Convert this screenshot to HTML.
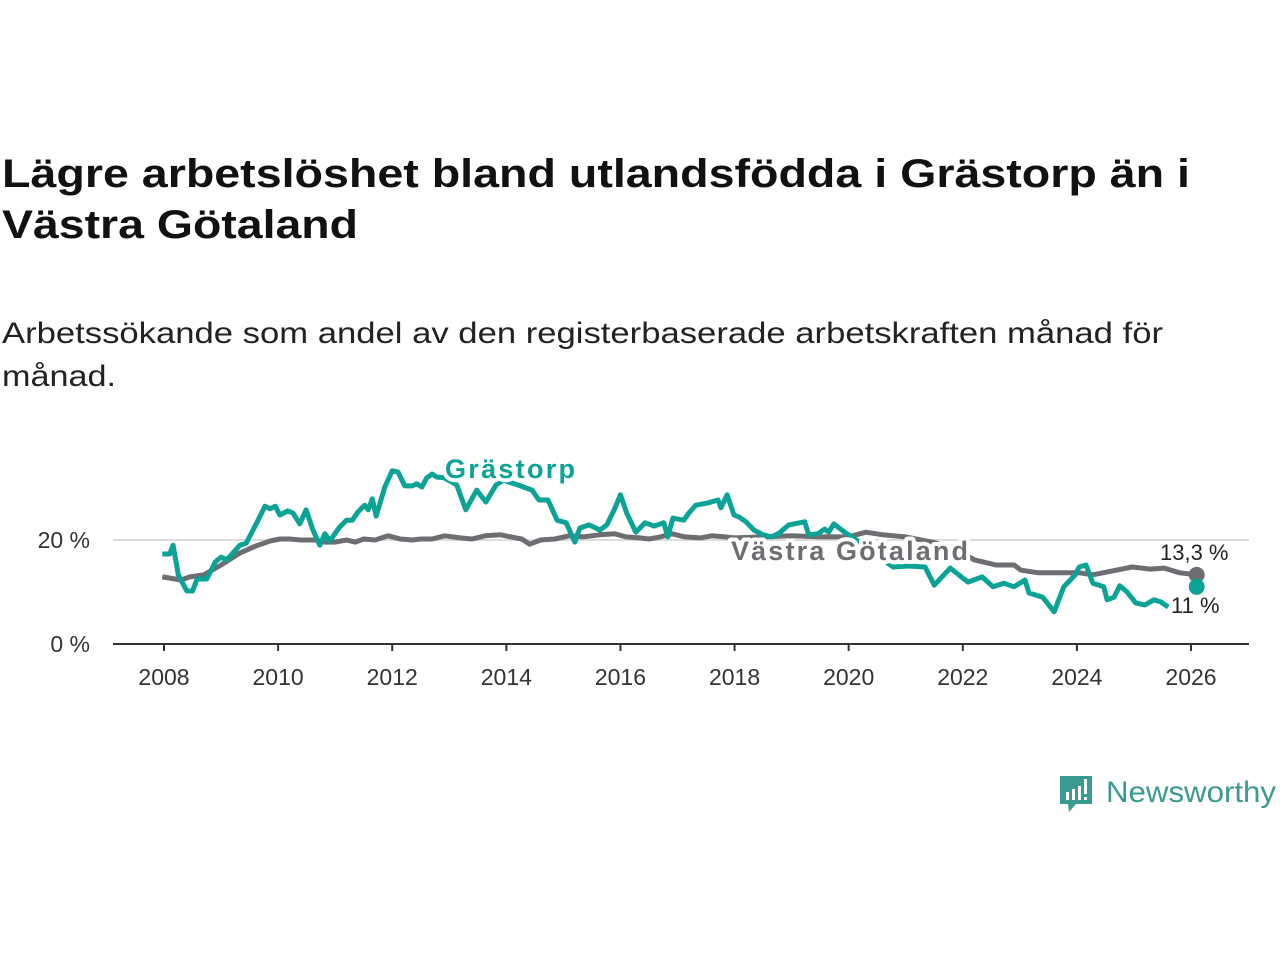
<!DOCTYPE html>
<html><head><meta charset="utf-8">
<style>
html,body{margin:0;padding:0;background:#fff;}
svg{display:block;font-family:"Liberation Sans",sans-serif;}
</style></head>
<body>
<svg id="chart" width="1280" height="960" viewBox="0 0 1280 960">
<text x="2" y="187" font-size="40" font-weight="bold" fill="#111" textLength="1188" lengthAdjust="spacingAndGlyphs">Lägre arbetslöshet bland utlandsfödda i Grästorp än i</text>
<text x="2" y="238" font-size="40" font-weight="bold" fill="#111" textLength="356" lengthAdjust="spacingAndGlyphs">Västra Götaland</text>
<text x="2" y="343" font-size="30" fill="#222" textLength="1161" lengthAdjust="spacingAndGlyphs">Arbetssökande som andel av den registerbaserade arbetskraften månad för</text>
<text x="2" y="386" font-size="30" fill="#222" textLength="114" lengthAdjust="spacingAndGlyphs">månad.</text>
<g id="axes"></g>
<g id="marks"></g>
<g>
<path d="M1060 776 h32 v28 h-16 l-7 8 l-1 -8 h-8 z" fill="#3a9a8f"/>
<rect x="1066" y="792" width="3" height="8" fill="#fff"/>
<rect x="1072" y="789" width="3" height="11" fill="#fff"/>
<rect x="1078" y="786" width="3" height="14" fill="#fff"/>
<rect x="1084" y="779" width="3" height="15" fill="#fff"/>
<rect x="1084" y="797" width="3" height="3" fill="#fff"/>
<text x="1106" y="802" font-size="30" fill="#3a9a8f" textLength="170" lengthAdjust="spacingAndGlyphs">Newsworthy</text>
</g>
</svg>
<script>
const xTicks = [2008,2010,2012,2014,2016,2018,2020,2022,2024,2026];
const yTicks = [0,20];
const yTickLabels = ["0 %","20 %"];
const gYears = [2007.97,2008.1,2008.16,2008.25,2008.4,2008.5,2008.58,2008.75,2008.9,2009.0,2009.1,2009.33,2009.44,2009.65,2009.77,2009.86,2009.95,2010.03,2010.17,2010.26,2010.38,2010.49,2010.61,2010.73,2010.82,2010.91,2011.0,2011.08,2011.2,2011.3,2011.4,2011.52,2011.58,2011.65,2011.72,2011.87,2012.0,2012.1,2012.22,2012.35,2012.43,2012.52,2012.6,2012.7,2012.78,2012.9,2013.0,2013.13,2013.29,2013.48,2013.64,2013.82,2013.95,2014.08,2014.2,2014.45,2014.57,2014.73,2014.89,2015.05,2015.2,2015.29,2015.45,2015.64,2015.76,2015.89,2016.0,2016.11,2016.27,2016.43,2016.59,2016.76,2016.83,2016.92,2017.11,2017.2,2017.32,2017.52,2017.71,2017.76,2017.87,2017.99,2018.08,2018.2,2018.34,2018.5,2018.65,2018.78,2018.95,2019.23,2019.3,2019.46,2019.58,2019.65,2019.74,2019.93,2020.2,2020.5,2020.78,2021.05,2021.34,2021.5,2021.78,2022.09,2022.34,2022.53,2022.72,2022.9,2023.09,2023.16,2023.4,2023.6,2023.77,2023.97,2024.04,2024.16,2024.28,2024.47,2024.53,2024.65,2024.75,2024.88,2025.03,2025.19,2025.35,2025.47,2025.6];
const gVals = [17.3,17.3,19.0,13.3,10.2,10.2,12.5,12.5,15.8,16.7,16.2,19.0,19.4,23.8,26.5,26.0,26.5,24.8,25.6,25.2,23.1,25.8,21.9,19.0,21.2,19.8,21.3,22.5,23.8,23.8,25.4,26.7,25.8,27.9,24.6,30.2,33.3,33.1,30.4,30.4,30.8,30.2,31.9,32.7,32.1,32.0,31.4,30.6,25.8,29.6,27.3,30.6,31.5,31.0,30.6,29.6,27.7,27.7,23.8,23.3,19.6,22.3,22.9,21.9,22.9,25.8,28.7,25.2,21.5,23.3,22.7,23.3,20.6,24.2,23.8,25.2,26.7,27.1,27.7,26.2,28.7,24.8,24.4,23.5,21.9,21.0,20.6,21.3,22.9,23.5,21.0,21.2,22.1,21.5,23.1,21.5,19.5,17.0,14.8,15.0,14.8,11.3,14.6,11.9,12.9,11.0,11.7,11.0,12.3,9.8,9.0,6.2,11.0,13.3,14.8,15.2,11.7,11.0,8.5,9.0,11.2,10.0,7.9,7.5,8.5,8.1,7.1];
const gLast = [2026.1, 11.0];
const vYears = [2007.97,2008.3,2008.45,2008.7,2009.0,2009.33,2009.6,2009.86,2010.03,2010.2,2010.4,2010.65,2010.82,2011.0,2011.2,2011.35,2011.5,2011.7,2011.93,2012.14,2012.35,2012.5,2012.7,2012.92,2013.19,2013.4,2013.63,2013.9,2014.08,2014.27,2014.41,2014.6,2014.85,2015.1,2015.35,2015.64,2015.9,2016.1,2016.34,2016.5,2016.7,2016.9,2017.13,2017.4,2017.6,2017.83,2018.0,2018.5,2019.0,2019.5,2020.0,2020.3,2020.6,2021.0,2021.5,2022.0,2022.2,2022.58,2022.9,2023.02,2023.33,2023.65,2024.04,2024.28,2024.6,2024.97,2025.28,2025.53,2025.8,2026.1];
const vVals = [12.9,12.3,12.9,13.3,15.2,17.5,18.8,19.8,20.2,20.2,20.0,20.0,19.6,19.6,20.0,19.6,20.2,20.0,20.8,20.2,20.0,20.2,20.2,20.8,20.4,20.2,20.8,21.0,20.6,20.2,19.2,20.0,20.2,20.8,20.6,21.0,21.2,20.6,20.4,20.2,20.6,21.2,20.6,20.4,20.8,20.6,20.4,20.6,20.8,20.6,20.6,21.5,21.0,20.6,19.5,17.5,16.2,15.2,15.2,14.2,13.7,13.7,13.7,13.3,14.0,14.8,14.4,14.6,13.7,13.3];

const NS='http://www.w3.org/2000/svg';
function xs(y){return 164+(y-2008)*(1191-164)/18;}
function ys(v){return 644-v*5.2;}
function mk(tag,attrs,parent){const e=document.createElementNS(NS,tag);for(const k in attrs)e.setAttribute(k,attrs[k]);parent.appendChild(e);return e;}
const axes=document.getElementById('axes'), marks=document.getElementById('marks');
yTicks.forEach((t,i)=>{
  if(t>0){const g=mk('line',{x1:113,x2:1249,y1:ys(t),y2:ys(t),stroke:'#dcdcdc','stroke-width':2},axes);
  
  }
  const l=mk('text',{x:90,y:ys(t)+8,'text-anchor':'end','font-size':23,fill:'#333'},axes);
  l.textContent=yTickLabels[i];
  
  
});
const ax=mk('line',{x1:113,x2:1249,y1:644,y2:644,stroke:'#333','stroke-width':2},axes);


xTicks.forEach(t=>{
  const tk=mk('line',{x1:xs(t),x2:xs(t),y1:644,y2:651,stroke:'#333','stroke-width':2},axes);
  
  
  const l=mk('text',{x:xs(t),y:685,'text-anchor':'middle','font-size':23,fill:'#333'},axes);
  l.textContent=t;
  
  
});
function pts(ya,va){return ya.map((y,i)=>xs(y).toFixed(1)+','+ys(va[i]).toFixed(1)).join(' ');}
const vLine=mk('polyline',{points:pts(vYears,vVals),fill:'none',stroke:'#6e6d72','stroke-width':5,'stroke-linejoin':'round'},marks);


const gLine=mk('polyline',{points:pts(gYears,gVals),fill:'none',stroke:'#0aa396','stroke-width':5,'stroke-linejoin':'round'},marks);


const vDot=mk('circle',{cx:xs(vYears[vYears.length-1]),cy:ys(vVals[vVals.length-1]),r:8,fill:'#6e6d72'},marks);


const gDot=mk('circle',{cx:xs(gLast[0]),cy:ys(gLast[1]),r:8,fill:'#0aa396'},marks);


function label(txt,x,y,size,weight,color,name,halo){
  const t=mk('text',{x:x,y:y,'font-size':size,'font-weight':weight,fill:color},marks);
  if(halo){t.setAttribute('stroke','#fff');t.setAttribute('stroke-width',halo);t.setAttribute('paint-order','stroke');t.setAttribute('stroke-linejoin','round');}
  t.textContent=txt;
  
  
  return t;
}
const l1=label('Grästorp',445,478,27,'bold','#0aa396','grastorp-series-label',8);
l1.setAttribute('textLength','130');
const l2=label('Västra Götaland',731,560,27,'bold','#6e6d72','vastra-gotaland-series-label',8);
l2.setAttribute('textLength','237');
label('13,3 %',1160,560,22,'normal','#222','vastra-gotaland-end-value',5);
label('11 %',1171,613,22,'normal','#222','grastorp-end-value',5);
</script>
</body></html>
